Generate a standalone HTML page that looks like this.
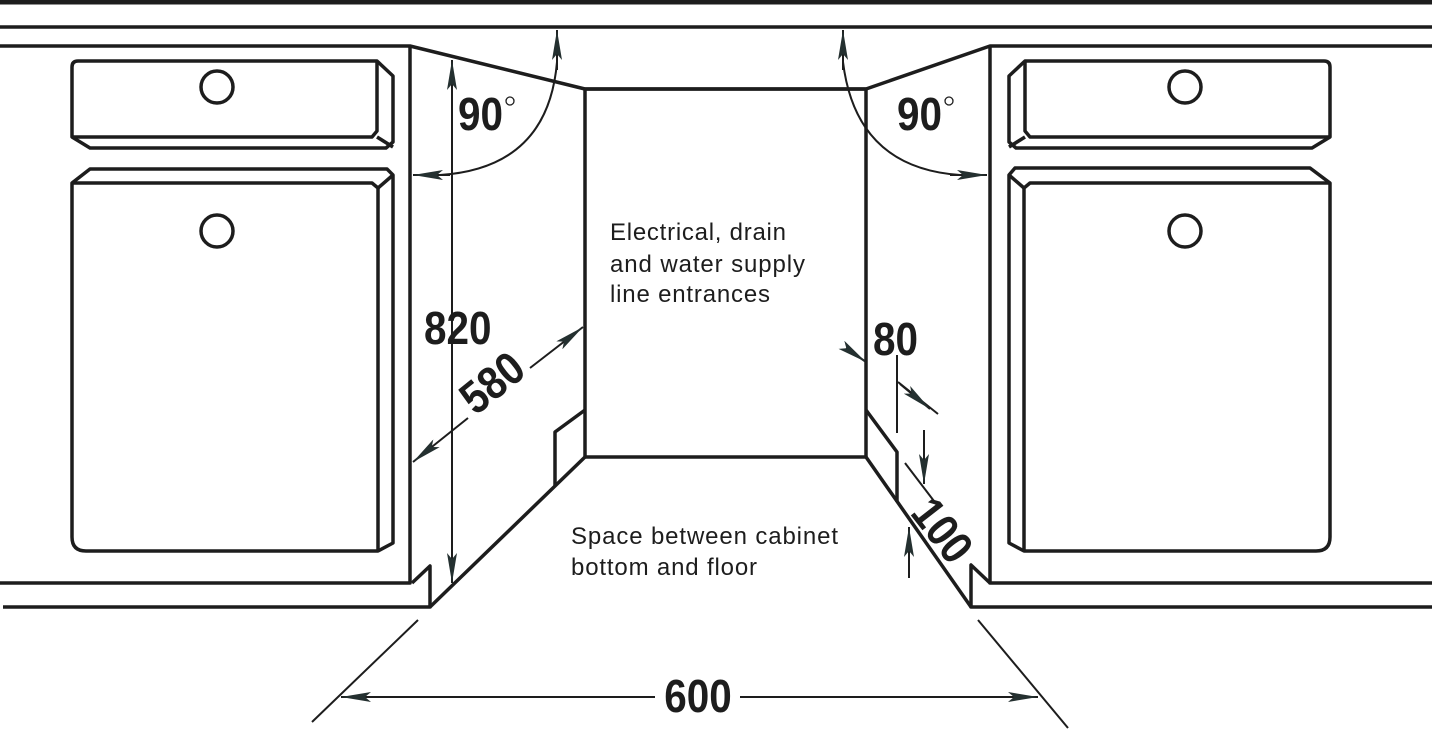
<!DOCTYPE html>
<html><head><meta charset="utf-8"><style>
html,body{margin:0;padding:0;background:#fff;}
svg{display:block;}
.n{font-family:"Liberation Sans",sans-serif;font-weight:bold;font-size:46px;fill:#1d1d1d;}
.t{font-family:"Liberation Sans",sans-serif;font-size:24px;fill:#1d1d1d;}
</style></head><body>
<svg width="1432" height="730" viewBox="0 0 1432 730" xmlns="http://www.w3.org/2000/svg">
<defs>
<marker id="a" viewBox="0 0 30 10" refX="30" refY="5" markerWidth="30" markerHeight="10" markerUnits="userSpaceOnUse" orient="auto">
<path d="M0,0 L30,5 L0,10 L6,5 Z" fill="#243030"/></marker>
</defs>
<g fill="none" stroke="#1d1d1d" stroke-width="3.5" stroke-linejoin="round">
<line x1="0" y1="2" x2="1432" y2="2" stroke-width="5"/>
<line x1="0" y1="27" x2="1432" y2="27"/>
<path d="M0,46 H410 L585,89 H866 L990,46 H1432"/>
<path d="M410,46 V583 H0"/>
<path d="M990,46 V583 H1432"/>
<rect x="585" y="89" width="281" height="368"/>
<path d="M412,583 L430,566 V607 H3"/>
<path d="M430,607 L585,457"/>
<path d="M555,486 V432 L585,410"/>
<path d="M990,583 L971,565 V607 H1432"/>
<path d="M866,457 L971,607"/>
<path d="M866,410 L897,452 V502"/>
<path d="M78,61 H377 L393,76 V142 L386,148 H90 L72,137 V67 Q72,61 78,61 Z"/>
<path d="M377,62 V131 L372,137 H72"/>
<path d="M377,137 L393,147"/>
<circle cx="217" cy="87" r="16"/>
<path d="M72,183 L90,169 H387 L393,175 V543 L378,551 H86 Q72,551 72,537 Z"/>
<path d="M72,183 H372 L378,188 V551"/>
<path d="M378,188 L393,175"/>
<circle cx="217" cy="231" r="16"/>
<path d="M1324,61 H1025 L1009,76 V142 L1016,148 H1312 L1330,137 V67 Q1330,61 1324,61 Z"/>
<path d="M1025,62 V131 L1030,137 H1330"/>
<path d="M1025,137 L1009,147"/>
<circle cx="1185" cy="87" r="16"/>
<path d="M1330,183 L1310,168 H1015 L1009,175 V543 L1024,551 H1316 Q1330,551 1330,537 Z"/>
<path d="M1330,183 H1030 L1024,188 V551"/>
<path d="M1024,188 L1009,175"/>
<circle cx="1185" cy="231" r="16"/>
</g>
<g fill="none" stroke="#1d1d1d" stroke-width="2">
<line x1="452" y1="90" x2="452" y2="60" marker-end="url(#a)"/>
<line x1="452" y1="90" x2="452" y2="545"/>
<line x1="452" y1="540" x2="452" y2="583" marker-end="url(#a)"/>
<path d="M557,62 Q548,168 440,175"/>
<line x1="557" y1="70" x2="557" y2="30" marker-end="url(#a)"/>
<line x1="450" y1="175" x2="413" y2="175" marker-end="url(#a)"/>
<path d="M843,62 Q856,168 960,175"/>
<line x1="843" y1="70" x2="843" y2="30" marker-end="url(#a)"/>
<line x1="950" y1="175" x2="987" y2="175" marker-end="url(#a)"/>
<line x1="468" y1="418" x2="413" y2="462" marker-end="url(#a)"/>
<line x1="530" y1="368" x2="583" y2="327" marker-end="url(#a)"/>
<line x1="846" y1="348" x2="866" y2="362" marker-end="url(#a)"/>
<line x1="897" y1="355" x2="897" y2="433"/>
<line x1="898" y1="382" x2="938" y2="414"/>
<line x1="900" y1="384" x2="930" y2="409" marker-end="url(#a)"/>
<line x1="924" y1="430" x2="924" y2="484" marker-end="url(#a)"/>
<line x1="905" y1="463" x2="937" y2="505"/>
<line x1="909" y1="578" x2="909" y2="527" marker-end="url(#a)"/>
<line x1="418" y1="620" x2="312" y2="722"/>
<line x1="978" y1="620" x2="1068" y2="728"/>
<line x1="655" y1="697" x2="341" y2="697" marker-end="url(#a)"/>
<line x1="740" y1="697" x2="1038" y2="697" marker-end="url(#a)"/>
<circle cx="510" cy="101" r="4" stroke-width="1.3"/>
<circle cx="949" cy="101" r="4" stroke-width="1.3"/>
</g>
<text class="n" transform="translate(458,130) scale(0.88,1)">90</text>
<text class="n" transform="translate(897,130) scale(0.88,1)">90</text>
<text class="n" transform="translate(424,344) scale(0.88,1)">820</text>
<text class="n" transform="translate(502,395) rotate(-39) scale(0.88,1)" text-anchor="middle">580</text>
<text class="n" transform="translate(873,355) scale(0.88,1)">80</text>
<text class="n" transform="translate(930,540) rotate(52) scale(0.88,1)" text-anchor="middle">100</text>
<text class="n" transform="translate(698,712) scale(0.88,1)" text-anchor="middle">600</text>
<text class="t" x="610" y="240" textLength="176">Electrical, drain</text>
<text class="t" x="610" y="272" textLength="195">and water supply</text>
<text class="t" x="610" y="302" textLength="160">line entrances</text>
<text class="t" x="571" y="544" textLength="267">Space between cabinet</text>
<text class="t" x="571" y="575" textLength="186">bottom and floor</text>
</svg>
</body></html>
